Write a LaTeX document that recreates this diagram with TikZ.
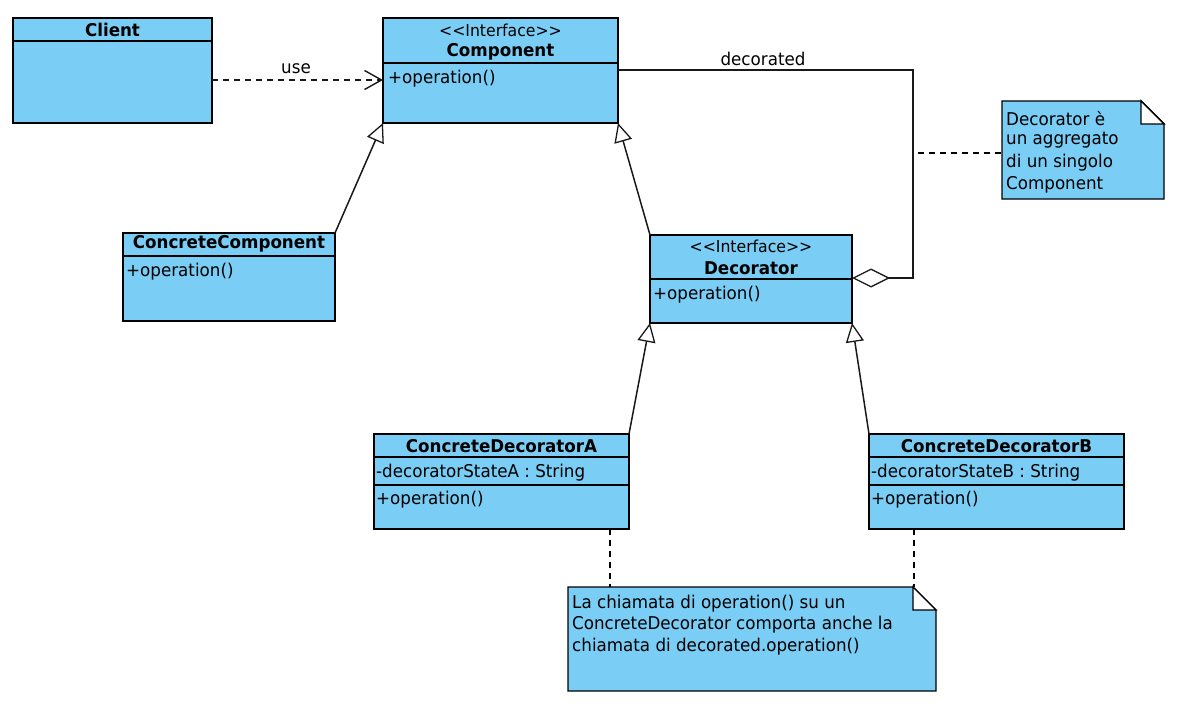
\documentclass[tikz,border=0pt]{standalone}
\usepackage{fontspec}
\setmainfont{DejaVu Sans}[FakeStretch=0.95]
\usetikzlibrary{arrows.meta}
\definecolor{ublue}{HTML}{7ACDF4}
\begin{document}
\begin{tikzpicture}[x=1pt,y=-1pt,
  cls/.style={draw=black, line width=1.4pt, fill=ublue, inner sep=0pt, outer sep=0pt, anchor=north west},
  ghost/.style={inner sep=0pt, outer sep=0pt, anchor=north west},
  sepline/.style={line width=1.4pt},
  txt/.style={font=\fontsize{17.6}{20}\selectfont, inner sep=0pt, text=black},
  ttl/.style={inner sep=0pt, text=black, font=\fontsize{17.6}{20}\selectfont\bfseries},
  ster/.style={inner sep=0pt, text=black, font=\fontsize{16.5}{19}\selectfont},
  mem/.style={txt, anchor=west, yshift=-1.5pt},
  link/.style={line width=1.5pt, draw=black!90},
  gen/.style={link, -{Triangle[length=19pt, width=18pt, fill=white, line width=1.3pt]}},
  dep/.style={link, dash pattern=on 6pt off 5pt, -{Straight Barb[length=17pt, width=19pt, line width=1.4pt]}},
  notelink/.style={line width=1.3pt, dash pattern=on 6pt off 5pt},
  agg/.style={link, {Diamond[length=38pt, width=19pt, fill=white, line width=1.3pt]}-},
  notebox/.style={draw=black, line width=1.4pt, fill=ublue, line join=miter},
  fold/.style={draw=black, line width=1.4pt, fill=white},
]
\useasboundingbox (0,0) rectangle (1184,704);
\fill[white] (0,0) rectangle (1184,704);

% ---------- classes ----------
\node[cls, minimum width=199pt, minimum height=105pt] (client) at (13,18) {};
\draw[sepline] (client.west |- 0,41) -- (client.east |- 0,41);
\node[ttl] (clientname) at (112.5,30) {Client};

\node[cls, minimum width=235pt, minimum height=105pt] (component) at (383,18) {};
\draw[sepline] (component.west |- 0,63) -- (component.east |- 0,63);
\node[ster] (compster) at (500.5,30) {<{}<Interface>{}>};
\node[ttl] (compname) at (500.5,52) {Component};
\node[mem] (compop) at (388,77) {+operation()};

\node[cls, minimum width=212pt, minimum height=88pt] (cc) at (123,233) {};
\draw[sepline] (cc.west |- 0,256) -- (cc.east |- 0,256);
\node[ttl] (ccname) at (229,244) {ConcreteComponent};
\node[mem] (ccop) at (126,270) {+operation()};

\node[cls, minimum width=202pt, minimum height=88pt] (decorator) at (650,235) {};
\draw[sepline] (decorator.west |- 0,279) -- (decorator.east |- 0,279);
\node[ster] (decster) at (751,246) {<{}<Interface>{}>};
\node[ttl] (decname) at (751,268) {Decorator};
\node[mem] (decop) at (653,293) {+operation()};

\node[cls, minimum width=255pt, minimum height=95pt] (cda) at (374,434) {};
\draw[sepline] (cda.west |- 0,457) -- (cda.east |- 0,457);
\draw[sepline] (cda.west |- 0,485) -- (cda.east |- 0,485);
\node[ttl] (cdaname) at (501.5,446) {ConcreteDecoratorA};
\node[mem] (cdaattr) at (376,471) {-decoratorStateA : String};
\node[mem] (cdaop) at (376,498) {+operation()};

\node[cls, minimum width=255pt, minimum height=95pt] (cdb) at (869,434) {};
\draw[sepline] (cdb.west |- 0,457) -- (cdb.east |- 0,457);
\draw[sepline] (cdb.west |- 0,485) -- (cdb.east |- 0,485);
\node[ttl] (cdbname) at (996.5,446) {ConcreteDecoratorB};
\node[mem] (cdbattr) at (871,471) {-decoratorStateB : String};
\node[mem] (cdbop) at (871,498) {+operation()};

% ---------- notes ----------
\node[ghost, minimum width=162pt, minimum height=98pt] (note1) at (1002,101) {};
\draw[notebox] (note1.north west) -- ([xshift=-23pt]note1.north east) -- ([yshift=-23pt]note1.north east) -- (note1.south east) -- (note1.south west) -- cycle;
\draw[fold] ([xshift=-23pt]note1.north east) -- ([xshift=-23pt,yshift=-23pt]note1.north east) -- ([yshift=-23pt]note1.north east) -- cycle;
\node[mem] (n1a) at (1006,117) {Decorator è};
\node[mem] (n1b) at (1006,139) {un aggregato};
\node[mem] (n1c) at (1006,161) {di un singolo};
\node[mem] (n1d) at (1006,183) {Component};

\node[ghost, minimum width=368pt, minimum height=104pt] (note2) at (568,587) {};
\draw[notebox] (note2.north west) -- ([xshift=-23pt]note2.north east) -- ([yshift=-23pt]note2.north east) -- (note2.south east) -- (note2.south west) -- cycle;
\draw[fold] ([xshift=-23pt]note2.north east) -- ([xshift=-23pt,yshift=-23pt]note2.north east) -- ([yshift=-23pt]note2.north east) -- cycle;
\node[mem] (n2a) at (572,602) {La chiamata di operation() su un};
\node[mem] (n2b) at (572,623) {ConcreteDecorator comporta anche la};
\node[mem] (n2c) at (572,645) {chiamata di decorated.operation()};

% ---------- connectors ----------
\draw[dep] (client.east |- 0,80) -- (component.west |- 0,80);
\node[txt] (uselbl) at (296,69) {use};

\draw[gen] (cc.north east) -- (component.south west);
\draw[gen] (decorator.north west) -- (component.south east);
\draw[gen] (cda.north east) -- (decorator.south west);
\draw[gen] (cdb.north west) -- (decorator.south east);

\coordinate (aggbot) at (913,278);
\coordinate (aggtop) at (913,70);
\draw[agg] (decorator.east |- aggbot) -- (aggbot) -- (aggtop) -- (component.east |- aggtop);
\node[txt] (declbl) at (763,59) {decorated};

\coordinate (aggnote) at (918,153);
\draw[notelink] (aggnote) -- (note1.west |- aggnote);
\draw[notelink] (cda.south -| 610,0) -- (note2.north -| 610,0);
\draw[notelink] (cdb.south -| 914,0) -- (note2.north -| 914,0);
\end{tikzpicture}
\end{document}
